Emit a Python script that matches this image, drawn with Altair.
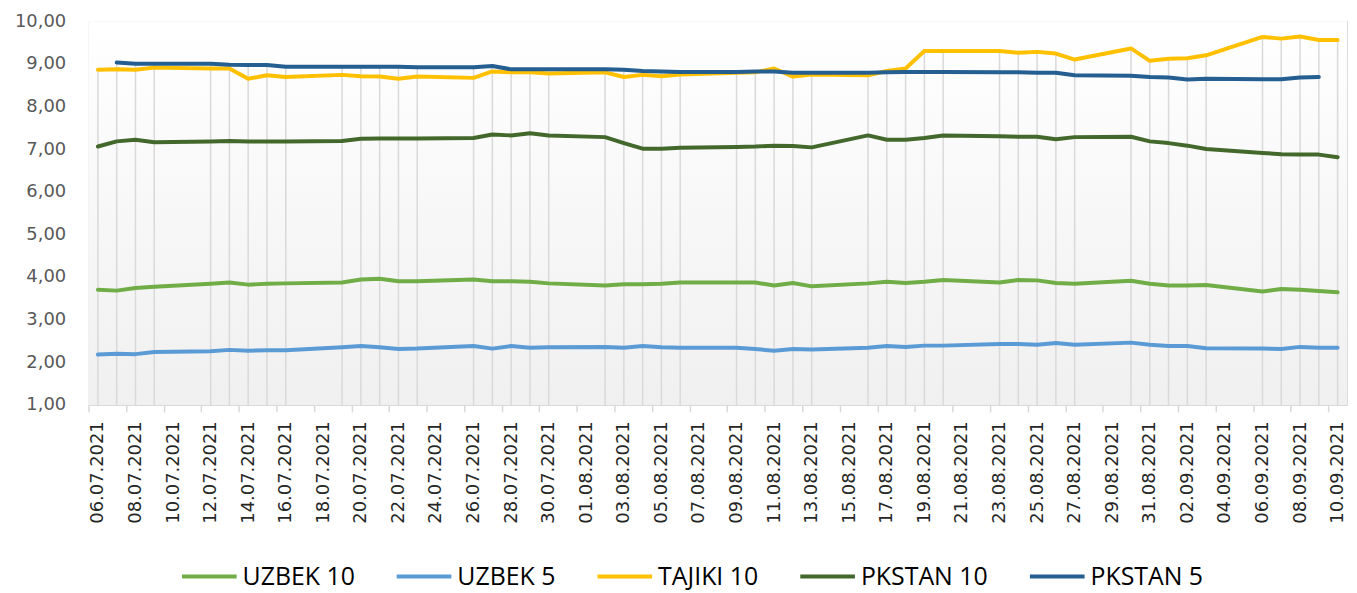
import altair as alt
import pandas as pd

# ---------------- data ----------------
dates = [
    "2021-07-06", "2021-07-07", "2021-07-08", "2021-07-09",
    "2021-07-12", "2021-07-13", "2021-07-14", "2021-07-15", "2021-07-16",
    "2021-07-19", "2021-07-20", "2021-07-21", "2021-07-22", "2021-07-23",
    "2021-07-26", "2021-07-27", "2021-07-28", "2021-07-29", "2021-07-30",
    "2021-08-02", "2021-08-03", "2021-08-04", "2021-08-05", "2021-08-06",
    "2021-08-09", "2021-08-10", "2021-08-11", "2021-08-12", "2021-08-13",
    "2021-08-16", "2021-08-17", "2021-08-18", "2021-08-19", "2021-08-20",
    "2021-08-23", "2021-08-24", "2021-08-25", "2021-08-26", "2021-08-27",
    "2021-08-30", "2021-08-31", "2021-09-01", "2021-09-02", "2021-09-03",
    "2021-09-06", "2021-09-07", "2021-09-08", "2021-09-09", "2021-09-10",
]

uzbek_10 = [
    3.70, 3.68, 3.74, 3.77,
    3.84, 3.87, 3.82, 3.84, 3.85,
    3.87, 3.94, 3.96, 3.90, 3.90,
    3.94, 3.90, 3.90, 3.89, 3.85,
    3.80, 3.83, 3.83, 3.84, 3.87,
    3.87, 3.87, 3.80, 3.86, 3.78,
    3.85, 3.89, 3.86, 3.89, 3.93,
    3.87, 3.93, 3.92, 3.86, 3.84,
    3.91, 3.84, 3.80, 3.80, 3.81,
    3.66, 3.72, 3.70, 3.67, 3.64,
]

uzbek_5 = [
    2.18, 2.20, 2.19, 2.24,
    2.26, 2.29, 2.27, 2.28, 2.28,
    2.35, 2.38, 2.35, 2.31, 2.32,
    2.38, 2.32, 2.38, 2.34, 2.35,
    2.36, 2.34, 2.38, 2.35, 2.34,
    2.34, 2.31, 2.27, 2.31, 2.30,
    2.34, 2.38, 2.36, 2.39, 2.39,
    2.43, 2.43, 2.41, 2.45, 2.41,
    2.46, 2.41, 2.38, 2.38, 2.33,
    2.32, 2.31, 2.36, 2.34, 2.34,
]

tajiki_10 = [
    8.86, 8.87, 8.86, 8.91,
    8.89, 8.89, 8.65, 8.73, 8.69,
    8.74, 8.71, 8.70, 8.65, 8.70,
    8.67, 8.82, 8.80, 8.80, 8.77,
    8.80, 8.69, 8.74, 8.71, 8.75,
    8.79, 8.80, 8.89, 8.70, 8.75,
    8.73, 8.83, 8.89, 9.30, 9.30,
    9.30, 9.26, 9.28, 9.24, 9.10,
    9.36, 9.07, 9.12, 9.13, 9.20,
    9.63, 9.59, 9.64, 9.56, 9.56,
]

pkstan_10 = [
    7.06, 7.18, 7.22, 7.16,
    7.18, 7.19, 7.18, 7.18, 7.18,
    7.19, 7.24, 7.25, 7.25, 7.25,
    7.26, 7.34, 7.32, 7.37, 7.32,
    7.28, 7.14, 7.01, 7.01, 7.03,
    7.05, 7.06, 7.08, 7.07, 7.04,
    7.32, 7.22, 7.22, 7.26, 7.32,
    7.30, 7.29, 7.29, 7.23, 7.28,
    7.29, 7.18, 7.14, 7.08, 7.00,
    6.91, 6.88, 6.87, 6.87, 6.81,
]

pkstan_5 = [
    None, 9.03, 9.00, 9.00,
    9.00, 8.98, 8.97, 8.97, 8.93,
    8.93, 8.93, 8.93, 8.93, 8.92,
    8.92, 8.95, 8.87, 8.87, 8.87,
    8.87, 8.86, 8.83, 8.82, 8.81,
    8.81, 8.82, 8.82, 8.79, 8.79,
    8.79, 8.80, 8.81, 8.81, 8.81,
    8.80, 8.80, 8.79, 8.79, 8.73,
    8.72, 8.69, 8.68, 8.63, 8.65,
    8.64, 8.64, 8.68, 8.69, None,
]

series_names = ["UZBEK 10", "UZBEK 5", "TAJIKI 10", "PKSTAN 10", "PKSTAN 5"]
series_colors = ["#70ad47", "#5b9bd5", "#ffc000", "#43682b", "#255e91"]
y_ticks = [1, 2, 3, 4, 5, 6, 7, 8, 9, 10]

# ---------------- frames ----------------
wide = pd.DataFrame({
    "date": pd.to_datetime(dates),
    "UZBEK 10": uzbek_10,
    "UZBEK 5": uzbek_5,
    "TAJIKI 10": tajiki_10,
    "PKSTAN 10": pkstan_10,
    "PKSTAN 5": pkstan_5,
})
wide["top"] = wide[series_names].max(axis=1)
long = wide.melt(id_vars=["date"], value_vars=series_names,
                 var_name="series", value_name="value").dropna()

W, H = 1266, 386
half_day = W / 67 / 2

label_days = pd.date_range("2021-07-06", "2021-09-10", freq="2D")
x_values = [alt.DateTime(year=d.year, month=d.month, date=d.day) for d in label_days]

x_enc = alt.X(
    "date:T",
    scale=alt.Scale(
        domain=[alt.DateTime(year=2021, month=7, date=5, hours=12),
                alt.DateTime(year=2021, month=9, date=10, hours=12)],
        nice=False,
    ),
    axis=alt.Axis(
        values=x_values,
        format="%d.%m.%Y",
        labelAngle=270,
        labelAlign="right",
        labelBaseline="middle",
        labelFlush=False,
        labelOverlap=False,
        tickOffset=-half_day,
        labelOffset=half_day,
        grid=False,
        domainColor="#d9d9d9",
        domainWidth=1.5,
        tickColor="#d9d9d9",
        tickWidth=1.5,
        tickSize=7,
        labelPadding=9,
        labelFont="DejaVu Sans",
        labelFontSize=18,
        labelColor="#262626",
        title=None,
    ),
)

y_scale = alt.Scale(domain=[1, 10], nice=False, zero=False)
y_axis = alt.Axis(
    values=y_ticks,
    labelExpr="replace(format(datum.value, '.2f'), '.', ',')",
    domain=False,
    ticks=False,
    grid=False,
    labelPadding=23,
    labelFont="DejaVu Sans",
    labelFontSize=18,
    labelColor="#595959",
    title=None,
)

bg = alt.Chart(alt.Data(values=[{}])).mark_rect(
    color=alt.Gradient(
        gradient="linear",
        stops=[alt.GradientStop(color="#ffffff", offset=0),
               alt.GradientStop(color="#f0f0f0", offset=1)],
        x1=0, x2=0, y1=0, y2=1,
    )
).encode(x=alt.value(0), x2=alt.value(W), y=alt.value(0), y2=alt.value(H))

drops = alt.Chart(wide).mark_rule(color="#d9d9d9", strokeWidth=1.5).encode(
    x=x_enc,
    y=alt.Y("top:Q", scale=y_scale, axis=y_axis),
    y2=alt.datum(1),
)

lines = alt.Chart(long).mark_line(
    strokeWidth=4, strokeCap="round", strokeJoin="round"
).encode(
    x=x_enc,
    y=alt.Y("value:Q", scale=y_scale, axis=y_axis),
    color=alt.Color(
        "series:N",
        scale=alt.Scale(domain=series_names, range=series_colors),
        legend=alt.Legend(
            orient="none",
            legendX=92,
            legendY=529,
            direction="horizontal",
            title=None,
            symbolType="stroke",
            symbolSize=3025,
            symbolStrokeWidth=4,
            labelFont="Open Sans",
            labelFontSize=25,
            labelColor="#000000",
            labelOffset=4,
            columnPadding=34,
            padding=0,
        ),
    ),
)

chart = alt.layer(bg, drops, lines).properties(
    width=W,
    height=H,
    autosize=alt.AutoSizeParams(type="none"),
    padding={"left": 81, "top": 11.5, "right": 2, "bottom": 187},
).configure_view(stroke=None).configure(background="#ffffff")

chart.save("out.html", embed_options={"renderer": "svg", "actions": False})
